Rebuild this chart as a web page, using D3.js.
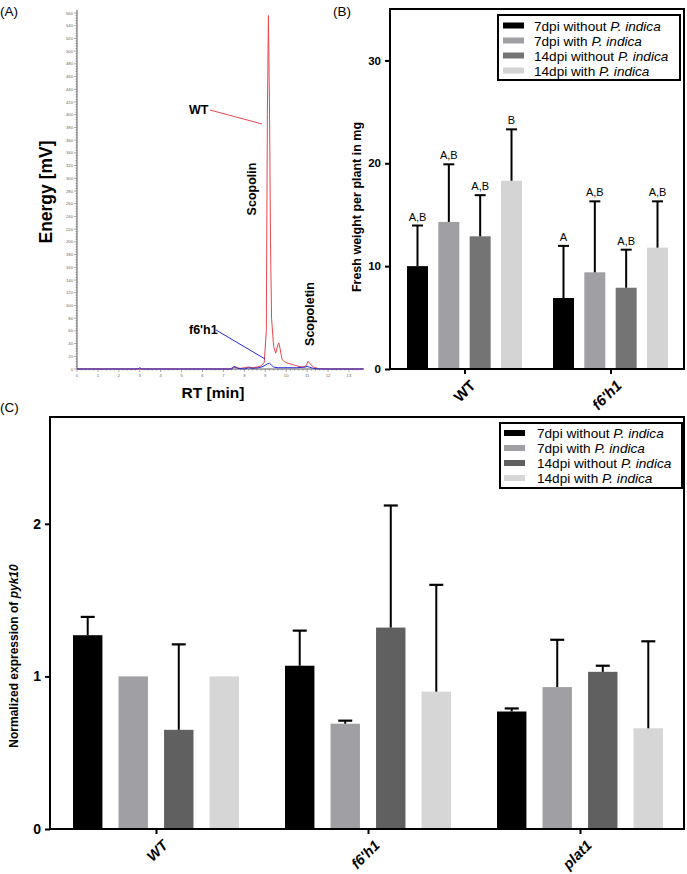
<!DOCTYPE html>
<html><head><meta charset="utf-8">
<script src="https://cdn.jsdelivr.net/npm/d3@7"></script>
<style>body{margin:0;background:#fff}svg{display:block}text{font-family:"Liberation Sans",Arial,sans-serif}</style>
</head><body>
<svg id="c" width="687" height="874"></svg>
<script>
// ---------- Panel A data (chromatogram) ----------
const rtWT = [0,7.3,7.5,7.6,7.8,8.0,8.2,8.4,8.6,8.8,8.95,9.05,9.1,9.15,9.2,9.25,9.3,9.4,9.5,9.6,9.65,9.72,9.8,9.9,10.0,10.2,10.4,10.6,10.8,10.95,11.05,11.15,11.3,11.5,12.0,13.7];
const mvWT = [0,0,3,2,1,2,3,2,3,5,10,60,400,556,420,200,80,35,25,38,41,30,15,12,10,8,6,4,3,5,12,8,3,1,0,0];
const rtF6 = [0,2.9,3.0,3.1,7.4,7.5,7.6,7.7,8.0,8.2,8.4,8.7,8.9,9.1,9.2,9.3,9.4,9.6,10.5,10.9,11.0,11.1,11.3,11.6,13.7];
const mvF6 = [0,0,2,0,0,4,3,1,0,2,1,2,4,8,9,6,3,2,2,3,4,3,1,0,0];

// ---------- Shared series ----------
const seriesNames = ["7dpi without ", "7dpi with ", "14dpi without ", "14dpi with "];
const seriesItalic = "P. indica";

// ---------- Panel B data ----------
const groupsB = ["WT", "f6'h1"];
const valuesB = [[10.0, 14.3, 12.9, 18.3], [6.9, 9.4, 7.9, 11.8]];
const errTopB = [[13.95, 19.9, 16.9, 23.3], [11.97, 16.3, 11.6, 16.3]];
const lettersB = [["A,B","A,B","A,B","B"], ["A","A,B","A,B","A,B"]];
const ticksB = [0, 10, 20, 30];

// ---------- Panel C data ----------
const groupsC = ["WT", "f6'h1", "plat1"];
const valuesC = [[1.27, 1.0, 0.65, 1.0], [1.07, 0.69, 1.32, 0.90], [0.77, 0.93, 1.03, 0.66]];
const errTopC = [[1.39, null, 1.21, null], [1.30, 0.71, 2.12, 1.60], [0.79, 1.24, 1.07, 1.23]];
const ticksC = [0, 1, 2];

const colorsB = ["#000000", "#a0a0a4", "#747474", "#d4d4d4"];
const colorsC = ["#000000", "#a0a0a4", "#606060", "#d6d6d6"];

const svg = d3.select("#c");
const F = '"Liberation Sans",Arial,sans-serif';

// Panel labels
[["(A)",0,16],["(B)",333,16],["(C)",0,412]].forEach(d=>{
  svg.append("text").attr("x",d[1]).attr("y",d[2]).attr("font-size",13.5).text(d[0]);
});

// =============== Panel A ===============
const xA = d3.scaleLinear().domain([0, 13.7]).range([77, 363.6]);
const yA = d3.scaleLinear().domain([0, 560]).range([369, 13]);
const gA = svg.append("g");
gA.append("line").attr("x1",77).attr("x2",77).attr("y1",yA(0)).attr("y2",yA(565)).attr("stroke","#333").attr("stroke-width",0.8);
d3.range(0, 561, 4).forEach(v=>{
  const major = v % 20 === 0;
  gA.append("line").attr("x1",77).attr("x2",major?74:75.5).attr("y1",yA(v)).attr("y2",yA(v)).attr("stroke","#555").attr("stroke-width",0.5);
  if(major) gA.append("text").attr("x",73).attr("y",yA(v)+1.5).attr("text-anchor","end").attr("font-size",4.2).attr("fill","#666").text(v);
});
gA.append("line").attr("x1",77).attr("x2",363.6).attr("y1",369).attr("y2",369).attr("stroke","#333").attr("stroke-width",0.8);
d3.range(0, 68).forEach(i=>{
  const v = i*0.2; const major = i % 5 === 0;
  gA.append("line").attr("x1",xA(v)).attr("x2",xA(v)).attr("y1",369).attr("y2",major?372:370.5).attr("stroke","#555").attr("stroke-width",0.5);
  if(major) gA.append("text").attr("x",xA(v)).attr("y",377).attr("text-anchor","middle").attr("font-size",4.2).attr("fill","#666").text(v);
});
const lineA = d3.line().x(d=>xA(d[0])).y(d=>yA(d[1]));
gA.append("path").datum(rtWT.map((r,i)=>[r,mvWT[i]])).attr("d",lineA).attr("fill","none").attr("stroke","#e8474c").attr("stroke-width",1);
gA.append("path").datum(rtF6.map((r,i)=>[r,mvF6[i]])).attr("d",lineA).attr("fill","none").attr("stroke","#2a2ad4").attr("stroke-width",1);
gA.append("line").attr("x1",210).attr("y1",110).attr("x2",262).attr("y2",124).attr("stroke","#e8474c").attr("stroke-width",1);
gA.append("text").attr("x",189).attr("y",114).attr("font-size",12.5).attr("font-weight","bold").text("WT");
gA.append("line").attr("x1",216).attr("y1",330).attr("x2",265).attr("y2",359).attr("stroke","#2a2ad4").attr("stroke-width",1);
gA.append("text").attr("x",189).attr("y",334).attr("font-size",12.5).attr("font-weight","bold").text("f6'h1");
gA.append("text").attr("transform","translate(256,189) rotate(-90)").attr("text-anchor","middle").attr("font-size",12.5).attr("font-weight","bold").text("Scopolin");
gA.append("text").attr("transform","translate(314,314) rotate(-90)").attr("text-anchor","middle").attr("font-size",12.5).attr("font-weight","bold").text("Scopoletin");
gA.append("text").attr("transform","translate(52,192) rotate(-90)").attr("text-anchor","middle").attr("font-size",17.5).attr("font-weight","bold").text("Energy [mV]");
gA.append("text").attr("x",213).attr("y",398).attr("text-anchor","middle").attr("font-size",15.5).attr("font-weight","bold").text("RT [min]");

// =============== helper for legends ===============
function legend(g, x0, y0, x1, y1, colors, rowY, swX, txX){
  g.append("rect").attr("x",x0).attr("y",y0).attr("width",x1-x0).attr("height",y1-y0).attr("fill","#fff").attr("stroke","#000").attr("stroke-width",2);
  seriesNames.forEach((s,i)=>{
    g.append("rect").attr("x",swX).attr("y",rowY[i]-3).attr("width",21).attr("height",6).attr("fill",colors[i]);
    const t = g.append("text").attr("x",txX).attr("y",rowY[i]+5).attr("font-size",13.6);
    t.append("tspan").text(s);
    t.append("tspan").attr("font-style","italic").text(seriesItalic);
  });
}

// =============== Panel B ===============
const gB = svg.append("g");
const yB = d3.scaleLinear().domain([0, 35]).range([369, 9]);
const xB = d3.scalePoint().domain(groupsB).range([464.5, 610.5]);
const xB1 = d3.scaleBand().domain(d3.range(4)).range([-57.5, 57.5]).paddingInner(0.33);
groupsB.forEach((g,gi)=>{
  valuesB[gi].forEach((v,si)=>{
    const bx = xB(g)+xB1(si), bw = xB1.bandwidth(), cx = bx+bw/2;
    gB.append("rect").attr("x",bx).attr("y",yB(v)).attr("width",bw).attr("height",yB(0)-yB(v)).attr("fill",colorsB[si]);
    const et = errTopB[gi][si];
    gB.append("line").attr("x1",cx).attr("x2",cx).attr("y1",yB(v)).attr("y2",yB(et)).attr("stroke","#000").attr("stroke-width",2);
    gB.append("line").attr("x1",cx-5.5).attr("x2",cx+5.5).attr("y1",yB(et)).attr("y2",yB(et)).attr("stroke","#000").attr("stroke-width",2);
    gB.append("text").attr("x",cx).attr("y",yB(et)-5).attr("text-anchor","middle").attr("font-size",11).text(lettersB[gi][si]);
  });
});
gB.append("rect").attr("x",390).attr("y",9).attr("width",294).attr("height",360).attr("fill","none").attr("stroke","#000").attr("stroke-width",2);
const axB = gB.append("g").attr("transform","translate(390,0)").call(d3.axisLeft(yB).tickValues(ticksB).tickSize(5).tickSizeOuter(0));
axB.select(".domain").remove();
axB.selectAll("line").attr("stroke","#000").attr("stroke-width",2);
axB.selectAll("text").attr("font-size",11.5).attr("font-weight","bold").attr("font-family",F).attr("dx",-1);
const axBx = gB.append("g").attr("transform","translate(0,369)").call(d3.axisBottom(xB).tickSize(5).tickSizeOuter(0));
axBx.select(".domain").remove();
axBx.selectAll("line").attr("stroke","#000").attr("stroke-width",2);
axBx.selectAll("text").attr("font-size",15).attr("font-weight","bold").attr("font-family",F)
  .attr("font-style",d=>d==="WT"?"normal":"italic")
  .attr("text-anchor","end").attr("transform","translate(2,8) rotate(-45)").attr("dy","0.9em").attr("y",0);
gB.append("text").attr("transform","translate(361,207) rotate(-90)").attr("text-anchor","middle").attr("font-size",12.5).attr("font-weight","bold").text("Fresh weight per plant in mg");
legend(gB, 498, 15, 680, 80, colorsB, [25.5,40.5,55.5,70.5], 503, 534);

// =============== Panel C ===============
const gC = svg.append("g");
const yC = d3.scaleLinear().domain([0, 2.7]).range([829, 417]);
const xC = d3.scalePoint().domain(groupsC).range([156, 580]);
const xC1 = d3.scaleBand().domain(d3.range(4)).range([-83, 83]).paddingInner(0.354);
groupsC.forEach((g,gi)=>{
  valuesC[gi].forEach((v,si)=>{
    const bx = xC(g)+xC1(si), bw = xC1.bandwidth(), cx = bx+bw/2;
    gC.append("rect").attr("x",bx).attr("y",yC(v)).attr("width",bw).attr("height",yC(0)-yC(v)).attr("fill",colorsC[si]);
    const et = errTopC[gi][si];
    if(et!==null){
      gC.append("line").attr("x1",cx).attr("x2",cx).attr("y1",yC(v)).attr("y2",yC(et)).attr("stroke","#000").attr("stroke-width",2);
      gC.append("line").attr("x1",cx-7).attr("x2",cx+7).attr("y1",yC(et)).attr("y2",yC(et)).attr("stroke","#000").attr("stroke-width",2.2);
    }
  });
});
gC.append("rect").attr("x",50).attr("y",417).attr("width",634).attr("height",412).attr("fill","none").attr("stroke","#000").attr("stroke-width",2);
const axC = gC.append("g").attr("transform","translate(50,0)").call(d3.axisLeft(yC).tickValues(ticksC).tickFormat(d3.format("d")).tickSize(5).tickSizeOuter(0));
axC.select(".domain").remove();
axC.selectAll("line").attr("stroke","#000").attr("stroke-width",2);
axC.selectAll("text").attr("font-size",14).attr("font-weight","bold").attr("font-family",F).attr("dx",-1);
const axCx = gC.append("g").attr("transform","translate(0,829)").call(d3.axisBottom(xC).tickSize(5).tickSizeOuter(0));
axCx.select(".domain").remove();
axCx.selectAll("line").attr("stroke","#000").attr("stroke-width",2);
axCx.selectAll("text").attr("font-size",14.5).attr("font-weight","bold").attr("font-style","italic").attr("font-family",F)
  .attr("text-anchor","end").attr("transform","translate(3,8) rotate(-45)").attr("dy","0.9em").attr("y",0);
const yl = gC.append("text").attr("transform","translate(18,656) rotate(-90)").attr("text-anchor","middle").attr("font-size",12).attr("font-weight","bold");
yl.append("tspan").text("Normalized expression of ");
yl.append("tspan").attr("font-style","italic").text("pyk10");
legend(gC, 500, 423, 682, 488, colorsC, [433,448,463,478], 504, 537);
</script>
</body></html>
